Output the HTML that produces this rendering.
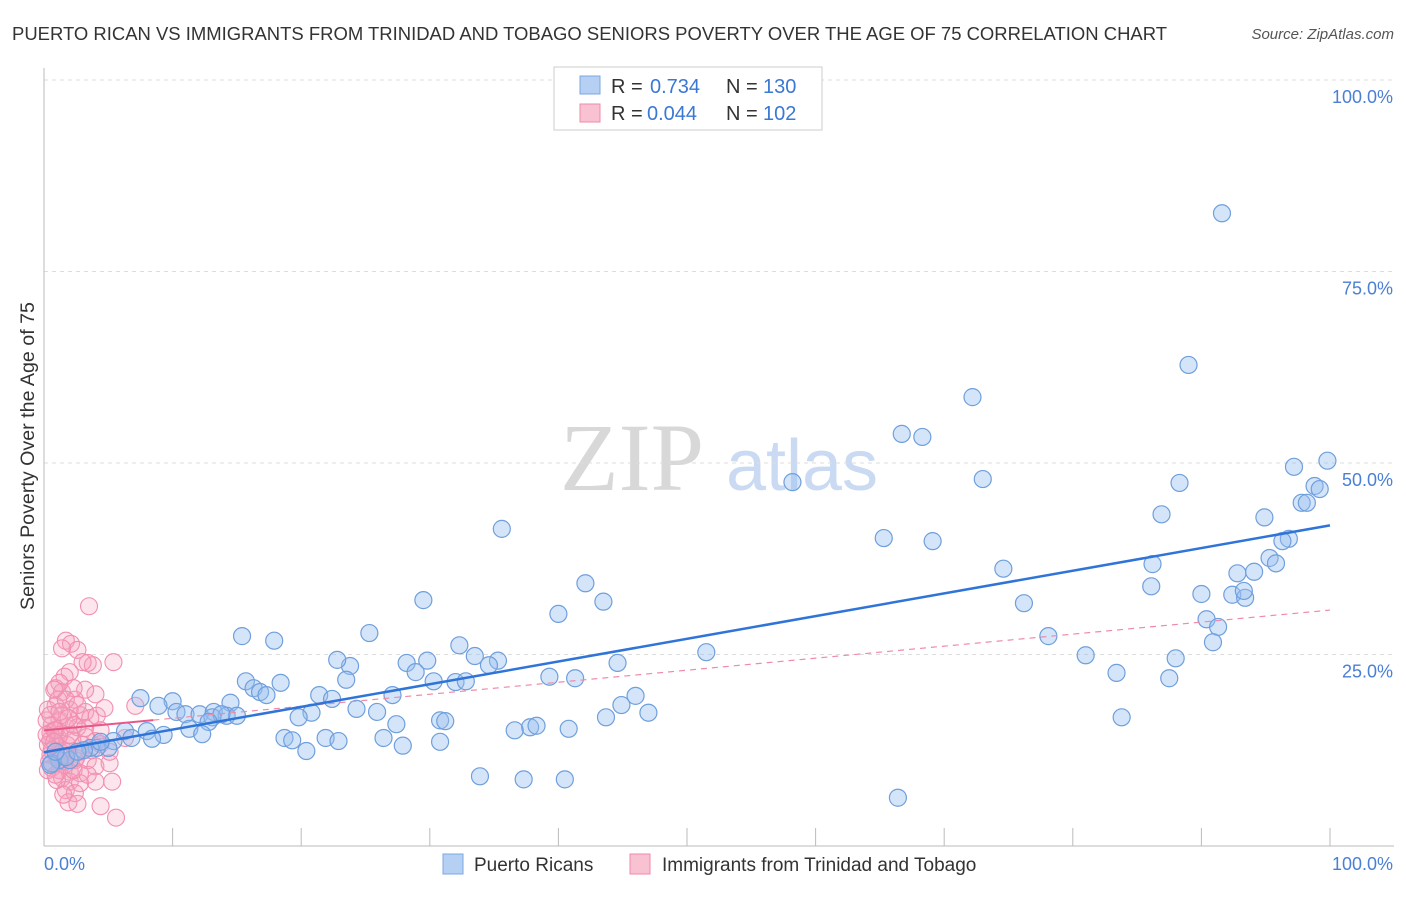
<!DOCTYPE html>
<html><head><meta charset="utf-8"><style>
body{margin:0;background:#fff;font-family:"Liberation Sans",sans-serif;}
svg text{font-family:"Liberation Sans",sans-serif;}
</style></head><body>
<svg id="c" width="1406" height="892" xmlns="http://www.w3.org/2000/svg">
<text x="12" y="40" font-size="18.4" fill="#333" textLength="1155" lengthAdjust="spacingAndGlyphs">PUERTO RICAN VS IMMIGRANTS FROM TRINIDAD AND TOBAGO SENIORS POVERTY OVER THE AGE OF 75 CORRELATION CHART</text>
<text x="1394" y="39" font-size="15" fill="#555" font-style="italic" text-anchor="end">Source: ZipAtlas.com</text>
<g>
<text x="632" y="490" font-size="96" fill="#d8d8d8" text-anchor="middle" font-family="Liberation Serif" style="font-family:'Liberation Serif',serif">ZIP</text>
<text x="802" y="490" font-size="72" fill="#c9daf2" text-anchor="middle">atlas</text>
</g>
<g id="grid"></g><g id="axes"></g><g id="pink"></g><g id="blue"></g><g id="lines"></g>
<g>
<rect x="554" y="67" width="268" height="63" fill="#fff" stroke="#ccc"/>
<rect x="580" y="76" width="20" height="18" fill="#b5d0f3" stroke="#7aa8e0"/>
<rect x="580" y="104" width="20" height="18" fill="#f9c2d3" stroke="#f08aaa"/>
<text x="611" y="93" font-size="20" fill="#333">R =</text>
<text x="650" y="93" font-size="20" fill="#3a78d4">0.734</text>
<text x="726" y="93" font-size="20" fill="#333">N =</text>
<text x="763" y="93" font-size="20" fill="#3a78d4">130</text>
<text x="611" y="120" font-size="20" fill="#333">R =</text>
<text x="647" y="120" font-size="20" fill="#3a78d4">0.044</text>
<text x="726" y="120" font-size="20" fill="#333">N =</text>
<text x="763" y="120" font-size="20" fill="#3a78d4">102</text>
</g>
<g>
<rect x="443" y="854" width="20" height="20" fill="#b5d0f3" stroke="#7aa8e0"/>
<text x="474" y="871" font-size="19" fill="#333">Puerto Ricans</text>
<rect x="630" y="854" width="20" height="20" fill="#f9c2d3" stroke="#f08aaa"/>
<text x="662" y="871" font-size="19" fill="#333">Immigrants from Trinidad and Tobago</text>
</g>
<text transform="translate(34,456) rotate(-90)" font-size="19" fill="#333" text-anchor="middle" textLength="308" lengthAdjust="spacingAndGlyphs">Seniors Poverty Over the Age of 75</text>
</svg>
<script>
const yTicks=[25,50,75,100];
const yTickLabels=["25.0%","50.0%","75.0%","100.0%"];
const xTicks=[0,10,20,30,40,50,60,70,80,90,100];
const blueX=[91.6,89.0,72.2,66.7,68.3,73.0,58.2,99.8,97.2,98.8,99.2,97.8,98.2,88.3,86.9,94.9,96.8,96.3,95.3,65.3,69.1,35.6,86.2,74.6,92.8,94.1,95.8,42.1,86.1,90.0,92.4,93.4,93.3,29.5,43.5,76.2,40.0,90.4,91.3,90.9,78.1,15.4,17.9,25.3,32.3,51.5,81.0,88.0,44.6,33.5,35.3,34.6,28.2,29.8,23.8,22.8,28.9,83.4,87.5,39.3,41.3,15.7,18.4,30.3,32.0,32.8,23.5,16.3,16.8,17.3,7.5,21.4,27.1,22.4,46.0,44.9,10.0,8.9,10.3,11.0,12.1,13.2,14.5,14.2,15.0,13.1,13.8,24.3,25.9,20.8,19.8,12.8,11.3,12.3,9.3,8.0,6.3,5.4,5.0,4.1,3.6,4.4,3.1,6.8,8.4,30.8,31.2,27.4,37.8,38.3,36.6,40.8,43.7,47.0,83.8,18.7,19.3,21.9,22.9,26.4,27.9,30.8,20.4,33.9,37.3,40.5,66.4,1.2,0.6,2.0,1.7,0.5,2.6,0.9];
const blueY=[82.6,62.8,58.6,53.8,53.4,47.9,47.5,50.3,49.5,47.0,46.6,44.8,44.8,47.4,43.3,42.9,40.1,39.8,37.6,40.2,39.8,41.4,36.8,36.2,35.6,35.8,36.9,34.3,33.9,32.9,32.8,32.4,33.3,32.1,31.9,31.7,30.3,29.6,28.6,26.6,27.4,27.4,26.8,27.8,26.2,25.3,24.9,24.5,23.9,24.8,24.2,23.6,23.9,24.2,23.5,24.3,22.7,22.6,21.9,22.1,21.9,21.5,21.3,21.5,21.4,21.5,21.7,20.6,20.1,19.7,19.3,19.7,19.7,19.2,19.6,18.4,18.9,18.3,17.5,17.2,17.2,17.5,18.7,17.0,17.0,16.8,17.2,17.9,17.5,17.4,16.8,16.2,15.3,14.6,14.5,15.0,15.0,13.7,12.8,12.8,12.8,13.6,12.5,14.1,14.0,16.4,16.3,15.9,15.5,15.7,15.1,15.3,16.8,17.4,16.8,14.1,13.8,14.1,13.7,14.1,13.1,13.6,12.4,9.1,8.7,8.7,6.3,11.2,10.8,11.2,11.6,10.6,12.3,12.3];
const pinkX=[3.5,1.7,2.1,2.6,5.4,3.4,3.8,3.0,1.4,2.0,1.6,0.9,1.4,1.1,2.4,4.0,0.9,2.0,2.8,3.2,3.6,4.1,4.7,7.1,1.2,0.6,1.7,2.6,0.5,1.1,2.2,3.3,4.0,4.4,0.9,1.5,1.9,2.8,0.5,1.0,1.6,2.4,3.4,0.6,1.2,2.0,2.8,4.0,5.1,1.4,2.0,2.8,4.0,5.3,1.7,2.4,1.9,2.6,4.4,5.6,0.5,0.8,1.2,0.3,0.6,1.1,0.3,0.2,0.3,1.4,2.3,1.8,3.0,3.7,1.0,1.5,3.2,2.3,1.2,0.8,1.7,2.6,0.5,0.9,2.0,3.2,1.6,2.3,0.4,0.9,4.4,5.1,6.3,0.2,1.2,1.9,2.5,3.4,0.8,1.3];
const pinkY=[31.3,26.8,26.4,25.6,24.0,23.9,23.6,24.0,25.8,22.7,22.1,20.6,20.1,19.1,19.1,19.8,18.3,17.8,17.1,17.5,16.7,17.0,18.0,18.3,16.4,15.8,15.5,15.5,14.8,14.1,13.8,14.2,13.7,13.3,13.1,12.5,12.3,12.3,11.9,11.5,11.0,11.2,11.2,10.2,9.9,9.7,9.5,10.4,10.8,8.9,8.4,8.2,8.4,8.4,7.3,6.9,5.7,5.5,5.2,3.7,13.8,15.1,14.5,13.2,12.5,11.2,9.9,16.4,17.8,17.1,15.8,13.2,13.2,12.5,8.6,6.7,20.4,20.6,21.3,20.4,19.1,18.4,17.1,15.1,14.5,15.4,10.6,9.9,11.0,9.3,15.1,12.3,14.1,14.5,17.5,16.7,11.5,9.3,13.6,11.7];
const pinkTrend=[15.1,0.157]; // intercept, slope
const pinkSolidEnd=8.5;
const NS="http://www.w3.org/2000/svg";
const X0=44,X1=1330,Y0=846,Y1=80;
const sx=v=>X0+(X1-X0)*v/100, sy=v=>Y0-(Y0-Y1)*v/100;
function mk(t,a,p){const e=document.createElementNS(NS,t);for(const k in a)e.setAttribute(k,a[k]);p.appendChild(e);return e;}
const grid=document.getElementById('grid'),axes=document.getElementById('axes');
yTicks.forEach((v,i)=>{
 const l=mk('line',{x1:X0,x2:1394,y1:sy(v),y2:sy(v),stroke:'#ddd','stroke-dasharray':'4,4'},grid);
 
 
 const t=mk('text',{x:1393,y:sy(v)+23,'font-size':18,fill:'#4a7fd4','text-anchor':'end'},axes);
 t.textContent=yTickLabels[i];
 
 
});
const xa=mk('line',{x1:X0,x2:1394,y1:Y0,y2:Y0,stroke:'#bbb'},axes);


const ya=mk('line',{x1:X0,x2:X0,y1:68,y2:Y0,stroke:'#bbb'},axes);


xTicks.forEach(v=>{
 const l=mk('line',{x1:sx(v),x2:sx(v),y1:828,y2:Y0,stroke:'#bbb'},axes);
 
 
});
const xl0=mk('text',{x:44,y:870,'font-size':18,fill:'#4a7fd4'},axes);xl0.textContent='0.0%';


const xl1=mk('text',{x:1393,y:870,'font-size':18,fill:'#4a7fd4','text-anchor':'end'},axes);xl1.textContent='100.0%';


const gp=document.getElementById('pink'),gb=document.getElementById('blue');
pinkX.forEach((v,i)=>{
 const c=mk('circle',{cx:sx(v),cy:sy(pinkY[i]),r:8.5,fill:'rgba(244,160,190,0.28)',stroke:'#f28fb0','stroke-width':1.1},gp);
 
 
});
blueX.forEach((v,i)=>{
 const c=mk('circle',{cx:sx(v),cy:sy(blueY[i]),r:8.5,fill:'rgba(150,190,240,0.4)',stroke:'#6f9fdc','stroke-width':1.2},gb);
 
 
});
// blue least squares
const n=blueX.length;let mx=0,my=0;blueX.forEach((v,i)=>{mx+=v;my+=blueY[i];});mx/=n;my/=n;
let sxy=0,sxx=0;blueX.forEach((v,i)=>{sxy+=(v-mx)*(blueY[i]-my);sxx+=(v-mx)*(v-mx);});
const b=sxy/sxx,a=my-b*mx;
const gl=document.getElementById('lines');
const pd=mk('line',{x1:sx(pinkSolidEnd),y1:sy(pinkTrend[0]+pinkTrend[1]*pinkSolidEnd),x2:sx(100),y2:sy(pinkTrend[0]+pinkTrend[1]*100),stroke:'#f08aaa','stroke-width':1.2,'stroke-dasharray':'6,5'},gl);


const ps=mk('line',{x1:sx(0),y1:sy(pinkTrend[0]),x2:sx(pinkSolidEnd),y2:sy(pinkTrend[0]+pinkTrend[1]*pinkSolidEnd),stroke:'#e8578a','stroke-width':2},gl);


const bl=mk('line',{x1:sx(0),y1:sy(a),x2:sx(100),y2:sy(a+b*100),stroke:'#2f74d8','stroke-width':2.5},gl);


</script>
</body></html>
